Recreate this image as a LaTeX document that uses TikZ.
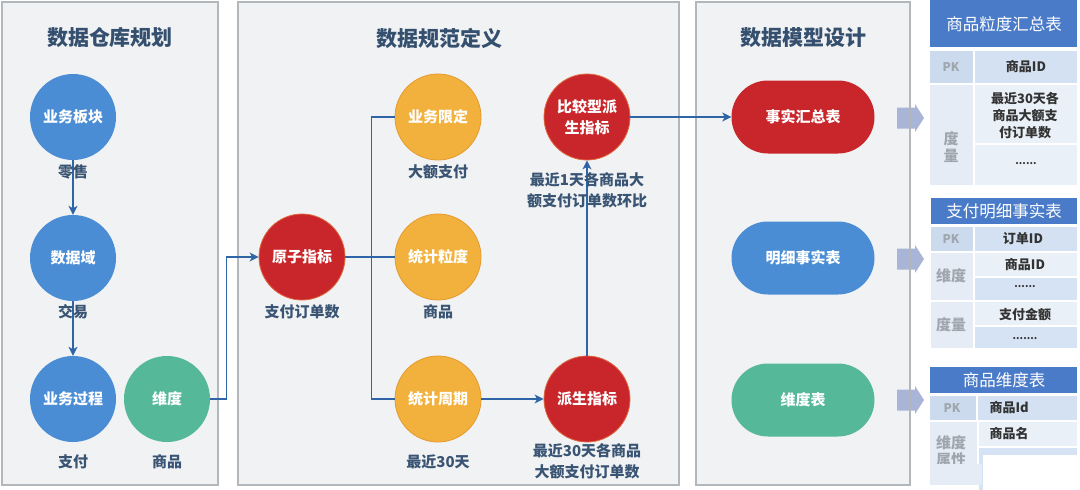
\documentclass[tikz,border=0pt]{standalone}
\usepackage{fontspec}
\setmainfont{Noto Sans CJK SC}
\usetikzlibrary{arrows.meta,shapes.misc}
\definecolor{panelfill}{HTML}{F0F2F3}
\definecolor{panelline}{HTML}{B2B7BC}
\definecolor{titlec}{HTML}{35506F}
\definecolor{labelc}{HTML}{3A5574}
\definecolor{cblue}{HTML}{4A8DD5}
\definecolor{cred}{HTML}{C8262A}
\definecolor{credb}{HTML}{E2683E}
\definecolor{corange}{HTML}{F2B13C}
\definecolor{corangeb}{HTML}{E59A30}
\definecolor{cgreen}{HTML}{55B899}
\definecolor{conn}{HTML}{2F65A6}
\definecolor{bigarr}{HTML}{A9B5D6}
\definecolor{thead}{HTML}{4A7BC8}
\definecolor{pkl}{HTML}{CCDAEE}
\definecolor{pkr}{HTML}{D3E1F3}
\definecolor{cellL}{HTML}{E6ECF5}
\definecolor{cellR}{HTML}{EAF0F8}
\definecolor{cellD}{HTML}{D6E3F4}
\definecolor{graytxt}{HTML}{A0A6AD}
\definecolor{celltxt}{HTML}{333333}
\begin{document}
\begin{tikzpicture}[x=1pt,y=-1pt,
  panel/.style={fill=panelfill,draw=panelline,line width=1.2pt},
  title/.style={text=titlec,font=\fontsize{21}{24}\selectfont\bfseries},
  circ/.style={circle,minimum size=86pt,inner sep=0pt,text=white,align=center,
     font=\fontsize{15}{21}\selectfont\bfseries},
  bluec/.style={circ,fill=cblue},
  redc/.style={circ,fill=cred,draw=credb,line width=0.8pt},
  orc/.style={circ,fill=corange,draw=corangeb,line width=0.8pt},
  grc/.style={circ,fill=cgreen},
  stad/.style={rounded rectangle,minimum width=143pt,minimum height=73pt,inner sep=0pt,
     text=white,font=\fontsize{15}{18}\selectfont\bfseries},
  lbl/.style={text=labelc,align=center,font=\fontsize{15}{21}\selectfont\bfseries},
  link/.style={draw=conn,line width=1.3pt},
  arr/.style={link,-{Stealth[length=9pt,width=9pt,inset=2.5pt]}},
  thd/.style={text=white,font=\fontsize{16.5}{19}\selectfont},
  gk/.style={text=graytxt,font=\fontsize{12}{14}\selectfont\bfseries},
  gl/.style={text=graytxt,align=center,font=\fontsize{15}{17}\selectfont\bfseries},
  ct/.style={text=celltxt,align=center,font=\fontsize{13}{17}\selectfont\bfseries},
  dots/.style={text=celltxt,font=\fontsize{10}{12}\selectfont\bfseries}]
\useasboundingbox (0,0) rectangle (1080,490);
\fill[white] (0,0) rectangle (1080,490);
% panels
\draw[panel] (2,2) rectangle (218,485);
\draw[panel] (238,2) rectangle (679,485);
\draw[panel] (696,2) rectangle (910,485);
% big arrows
\foreach \yy in {118,259,400}{
  \fill[bigarr] (897,\yy-10.5) -- (915,\yy-10.5) -- (915,\yy-14) -- (924,\yy) -- (915,\yy+14) -- (915,\yy+10.5) -- (897,\yy+10.5) -- cycle;
}
\draw[panelline,line width=1.2pt] (910,2) -- (910,485);
% titles
\node[title] (t1) at (110,38) {数据仓库规划};
\node[title] (t2) at (439,38) {数据规范定义};
\node[title] (t3) at (803,38) {数据模型设计};
% panel 1
\node[bluec] (bk) at (73,117) {业务板块};
\node[bluec] (sjy) at (73,258) {数据域};
\node[bluec] (gc) at (73,399) {业务过程};
\node[grc] (wd) at (167,399) {维度};
\draw[arr] (bk.south) -- (sjy.north);
\draw[arr] (sjy.south) -- (gc.north);
\node[lbl] (l1) at (73,172) {零售};
\node[lbl] (l2) at (73,312) {交易};
\node[lbl] (l3) at (73,462) {支付};
\node[lbl] (l4) at (167,462) {商品};
% panel 2
\node[redc] (yz) at (302,257) {原子指标};
\node[orc] (xd) at (438,117) {业务限定};
\node[orc] (ld) at (438,257) {统计粒度};
\node[orc] (zq) at (438,399) {统计周期};
\node[redc] (ps) at (587,399) {派生指标};
\node[redc] (bj) at (587,117) {比较型派\\生指标};
\draw[arr] (wd.east) -- ++(16,0) |- (yz.west);
\draw[link] (yz.east) -- (ld.west);
\draw[link] (xd.west) -- ++(-23,0) |- (zq.west);
\draw[arr] (zq.east) -- (ps.west);
\draw[arr] (ps.north) -- (bj.south);
\node[lbl] (l5) at (302,312) {支付订单数};
\node[lbl] (l6) at (438,172) {大额支付};
\node[lbl] (l7) at (438,312) {商品};
\node[lbl] (l8) at (438,462) {最近30天};
\node[lbl] (l9) at (587,190) {最近1天各商品大\\额支付订单数环比};
\node[lbl] (l10) at (587,461) {最近30天各商品\\大额支付订单数};
% panel 3
\node[stad,fill=cred] (sh) at (803,117) {事实汇总表};
\node[stad,fill=cblue] (mx) at (803,258) {明细事实表};
\node[stad,fill=cgreen] (wdb) at (803,400) {维度表};
\draw[arr] (bj.east) -- (sh.west);
% table 1
\fill[thead] (930,0) rectangle (1077,47);
\node[thd] (h1) at (1004,24) {商品粒度汇总表};
\fill[pkl] (930,51) rectangle (973,83);
\fill[pkr] (975,51) rectangle (1077,83);
\node[gk] (a1) at (951,67) {PK};
\node[ct] (a2) at (1026,67) {商品ID};
\fill[cellL] (930,85) rectangle (973,185);
\fill[cellR] (975,85) rectangle (1077,143);
\fill[cellR] (975,145) rectangle (1077,185);
\node[gl] (a3) at (951,147) {度\\量};
\node[ct] (a4) at (1025,116) {最近30天各\\商品大额支\\付订单数};
\node[dots] (a5) at (1026,164) {......};
% table 2
\fill[thead] (931,198) rectangle (1077,224);
\node[thd] (h2) at (1004,211) {支付明细事实表};
\fill[pkl] (931,227) rectangle (973,251);
\fill[pkr] (975,227) rectangle (1077,251);
\node[gk] (b1) at (951,239) {PK};
\node[ct] (b2) at (1023,239) {订单ID};
\fill[cellL] (931,253) rectangle (973,300);
\fill[cellR] (975,253) rectangle (1077,276);
\fill[cellD] (975,278) rectangle (1077,300);
\node[gl] (b3) at (951,276) {维度};
\node[ct] (b4) at (1025,265) {商品ID};
\node[dots] (b5) at (1025,287) {......};
\fill[cellL] (931,302) rectangle (973,348);
\fill[cellR] (975,302) rectangle (1077,325);
\fill[cellD] (975,327) rectangle (1077,348);
\node[gl] (b6) at (951,325) {度量};
\node[ct] (b7) at (1025,315) {支付金额};
\node[dots] (b8) at (1025,339) {.......};
% table 3
\fill[thead] (930,367) rectangle (1077,393);
\node[thd] (h3) at (1004,380) {商品维度表};
\fill[pkl] (930,396) rectangle (976,420);
\fill[pkr] (978,396) rectangle (1077,420);
\node[gk] (c1) at (952,408) {PK};
\node[ct,anchor=west] (c2) at (986,408) {商品Id};
\fill[cellL] (930,422) rectangle (977,485);
\fill[cellR] (979,422) rectangle (1077,446);
\fill[cellD] (979,448) rectangle (1077,490);
\node[gl] (c3) at (951,451) {维度\\属性};
\fill[cellL] (930,464) rectangle (982,485);
\node[ct,anchor=west] (c4) at (986,434) {商品名};
\fill[white] (983,455) rectangle (1080,490);
\end{tikzpicture}
\end{document}
